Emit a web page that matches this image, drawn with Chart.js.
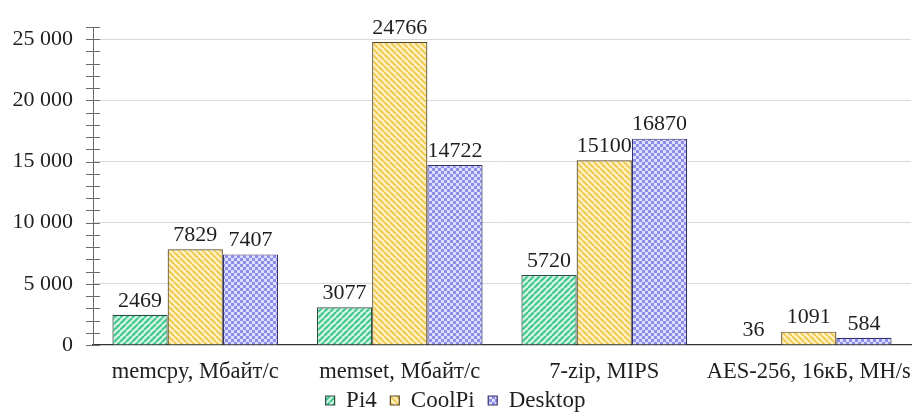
<!DOCTYPE html>
<html>
<head>
<meta charset="utf-8">
<script src="https://cdn.jsdelivr.net/npm/chart.js@4/dist/chart.umd.min.js"></script>
<style>
  html, body { margin: 0; padding: 0; background: #fff; }
  #wrap { width: 914px; height: 416px; }
</style>
</head>
<body>
<div id="wrap"><canvas id="chart"></canvas></div>
<script>
const categories = ['memcpy, Мбайт/с', 'memset, Мбайт/с', '7-zip, MIPS', 'AES-256, 16кБ, MH/s'];
const pi4 = [2469, 3077, 5720, 36];
const coolPi = [7829, 24766, 15100, 1091];
const desktop = [7407, 14722, 16870, 584];
const seriesNames = ['Pi4', 'CoolPi', 'Desktop'];
const yTicks = [0, 5000, 10000, 15000, 20000, 25000];
const yMax = 26000;
const minorStep = 1000;

const SERIF = '"Liberation Serif", "Times New Roman", serif';

// hatch patterns
function stripes(bg, fg, dir) {
    const c = document.createElement('canvas');
    c.width = 6; c.height = 6;
    const g = c.getContext('2d');
    g.fillStyle = bg;
    g.fillRect(0, 0, 6, 6);
    g.strokeStyle = fg;
    g.lineWidth = 2;
    g.beginPath();
    if (dir > 0) {
        for (let k = -6; k <= 12; k += 6) { g.moveTo(k, 6); g.lineTo(k + 6, 0); }
    } else {
        for (let k = -6; k <= 12; k += 6) { g.moveTo(k, 0); g.lineTo(k + 6, 6); }
    }
    g.stroke();
    return g.createPattern(c, 'repeat');
}

function checks(bg, fg) {
    const c = document.createElement('canvas');
    c.width = 6; c.height = 6;
    const g = c.getContext('2d');
    g.fillStyle = bg;
    g.fillRect(0, 0, 6, 6);
    g.fillStyle = fg;
    g.fillRect(0, 0, 3, 3);
    g.fillRect(3, 3, 3, 3);
    return g.createPattern(c, 'repeat');
}

const greenFill = stripes('#d4f4e4', '#3fc78c', 1);
const yellowFill = stripes('#fff3c4', '#f0c955', -1);
const blueFill = checks('#dedefb', '#8d8deb');

// minor/major ticks on both sides of the y axis
const axisTicks = {
    id: 'axisTicks',
    afterDraw(chart) {
        const y = chart.scales.y;
        const ctx = chart.ctx;
        const x0 = y.right;
        ctx.save();
        ctx.strokeStyle = '#6a6a6a';
        ctx.lineWidth = 1;
        ctx.beginPath();
        for (let v = 0; v <= y.max; v += minorStep) {
            const py = Math.round(y.getPixelForValue(v)) + 0.5;
            ctx.moveTo(x0 - 7, py);
            ctx.lineTo(x0 + 7, py);
        }
        ctx.stroke();
        ctx.restore();
    }
};

// value labels over bars
const valueLabels = {
    id: 'valueLabels',
    afterDatasetsDraw(chart) {
        const ctx = chart.ctx;
        ctx.save();
        ctx.font = '22px ' + SERIF;
        ctx.fillStyle = '#1e1e1e';
        ctx.textAlign = 'center';
        ctx.textBaseline = 'bottom';
        chart.data.datasets.forEach((ds, i) => {
            chart.getDatasetMeta(i).data.forEach((bar, j) => {
                ctx.fillText(String(ds.data[j]), bar.x, bar.y - 3);
            });
        });
        ctx.restore();
    }
};

const ctx = document.getElementById('chart').getContext('2d');

new Chart(ctx, {
    type: 'bar',
    data: {
        labels: categories,
        datasets: [
            { label: seriesNames[0], data: pi4, backgroundColor: greenFill, borderColor: '#2f4f40', borderWidth: 1.2 },
            { label: seriesNames[1], data: coolPi, backgroundColor: yellowFill, borderColor: '#5a4a28', borderWidth: 1.2 },
            { label: seriesNames[2], data: desktop, backgroundColor: blueFill, borderColor: '#33336e', borderWidth: 1.2 }
        ]
    },
    options: {
        responsive: true,
        maintainAspectRatio: false,
        animation: false,
        datasets: {
            bar: { categoryPercentage: 0.81, barPercentage: 1.0 }
        },
        layout: { padding: { top: 27, right: 3, left: 0, bottom: -6 } },
        plugins: {
            legend: {
                position: 'bottom',
                labels: {
                    font: { family: SERIF, size: 23 },
                    color: '#1e1e1e',
                    boxWidth: 9,
                    boxHeight: 9,
                    padding: 2,
                    // two spaces of air after each entry, like the source
                    generateLabels: (chart) => Chart.defaults.plugins.legend.labels.generateLabels(chart)
                        .map((l, i, all) => Object.assign(l, { text: i < all.length - 1 ? l.text + '  ' : l.text }))
                }
            },
            tooltip: { enabled: false }
        },
        scales: {
            x: {
                afterFit: (s) => { s.height = 42; s.paddingLeft = 0; s.paddingRight = 0; },
                grid: { display: false, drawTicks: false },
                border: { color: '#333', width: 1.2 },
                ticks: {
                    font: { family: SERIF, size: 22.5 },
                    color: '#1e1e1e',
                    padding: 14,
                    maxRotation: 0,
                    minRotation: 0,
                    autoSkip: false
                }
            },
            y: {
                min: 0,
                max: yMax,
                afterFit: (s) => { s.width = 93; s.paddingTop = 0; s.paddingBottom = 0; },
                afterBuildTicks: (s) => { s.ticks = yTicks.map(v => ({ value: v })); },
                grid: {
                    drawTicks: false,
                    color: (c) => (c.tick && c.tick.value > 0) ? '#d9d9d9' : 'rgba(0,0,0,0)'
                },
                border: { color: '#6a6a6a', width: 1 },
                ticks: {
                    font: { family: SERIF, size: 22 },
                    color: '#1e1e1e',
                    padding: 20,
                    callback: (v) => v === 0 ? '0' : String(v / 1000) + ' 000'
                }
            }
        }
    },
    plugins: [axisTicks, valueLabels]
});
</script>
</body>
</html>
